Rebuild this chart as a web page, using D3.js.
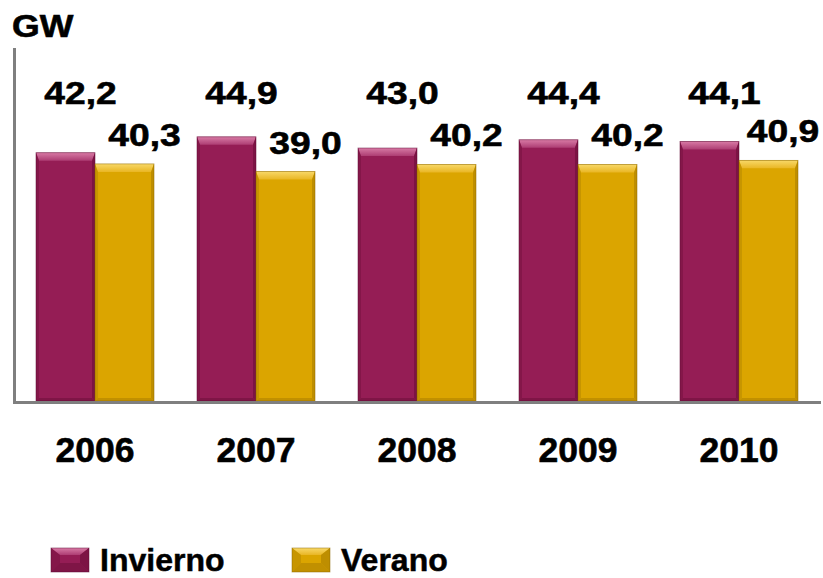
<!DOCTYPE html>
<html>
<head>
<meta charset="utf-8">
<script src="https://cdn.jsdelivr.net/npm/d3@7"></script>
<style>
  html, body { margin: 0; padding: 0; background: #fff; }
  svg { display: block; font-family: "Liberation Sans", Arial, sans-serif; font-weight: bold; }
</style>
</head>
<body>
<script>
const years = ["2006", "2007", "2008", "2009", "2010"];
const seriesNames = ["Invierno", "Verano"];
const invierno = [42.2, 44.9, 43.0, 44.4, 44.1];
const verano = [40.3, 39.0, 40.2, 40.2, 40.9];
const unitLabel = "GW";

const COLORS = {
  Invierno: {main: "#951d55", light: "#d87aa5", mid: "#ad3d73", dark: "#761240", edge: "#5e0c33"},
  Verano: {main: "#dba500", light: "#f8d868", mid: "#e9b624", dark: "#b78800", edge: "#8c6800"}
};

const width = 823;
const height = 578;

const data = years.flatMap((year, i) => [
  {year, series: "Invierno", value: invierno[i]},
  {year, series: "Verano", value: verano[i]}
]);

const x0 = d3.scaleBand().domain(years).range([36, 798]).paddingInner(0.267).paddingOuter(0);
const x1 = d3.scaleBand().domain(seriesNames).range([0, x0.bandwidth()]);
const y = d3.scaleLinear().domain([0, 60]).range([401, 48]);

const fmt = (v) => d3.format(".1f")(v).replace(".", ",");

const svg = d3.select("body").append("svg")
  .attr("width", width)
  .attr("height", height)
  .attr("viewBox", [0, 0, width, height]);

const defs = svg.append("defs");
for (const name of seriesNames) {
  const c = COLORS[name];
  const grad = defs.append("linearGradient")
    .attr("id", `top-${name}`)
    .attr("x1", 0).attr("y1", 0).attr("x2", 0).attr("y2", 1);
  grad.append("stop").attr("offset", "0%").attr("stop-color", c.light);
  grad.append("stop").attr("offset", "100%").attr("stop-color", c.mid);
}

function bevelBox(g, bx, by, w, h, name, t, s) {
  const c = COLORS[name];
  const box = g.append("g");
  box.append("rect")
    .attr("x", bx).attr("y", by).attr("width", w).attr("height", h)
    .attr("fill", c.main);
  box.append("polygon")
    .attr("points", [[bx, by], [bx + w, by], [bx + w - s, by + t], [bx + s, by + t]].join(" "))
    .attr("fill", `url(#top-${name})`);
  box.append("polygon")
    .attr("points", [[bx, by], [bx + s, by + t], [bx + s, by + h - s], [bx, by + h]].join(" "))
    .attr("fill", c.dark).attr("opacity", 0.55);
  box.append("polygon")
    .attr("points", [[bx + w, by], [bx + w - s, by + t], [bx + w - s, by + h - s], [bx + w, by + h]].join(" "))
    .attr("fill", c.dark).attr("opacity", 0.8);
  box.append("polygon")
    .attr("points", [[bx, by + h], [bx + s, by + h - s], [bx + w - s, by + h - s], [bx + w, by + h]].join(" "))
    .attr("fill", c.dark).attr("opacity", 0.7);
  box.append("rect")
    .attr("x", bx).attr("y", by).attr("width", w).attr("height", h)
    .attr("fill", "none").attr("stroke", c.edge).attr("stroke-width", 0.8).attr("stroke-opacity", 0.6);
}

// bars
const bars = svg.append("g");
for (const d of data) {
  const bx = x0(d.year) + x1(d.series);
  const by = y(d.value);
  bevelBox(bars, bx, by, x1.bandwidth(), y(0) - by, d.series, 8, 3);
}

// axes
svg.append("line")
  .attr("x1", 14.5).attr("x2", 14.5)
  .attr("y1", y.range()[1]).attr("y2", y(0) + 3)
  .attr("stroke", "#7f7f7f").attr("stroke-width", 3);
svg.append("line")
  .attr("x1", 13).attr("x2", 821)
  .attr("y1", y(0) + 1.5).attr("y2", y(0) + 1.5)
  .attr("stroke", "#7f7f7f").attr("stroke-width", 3);

// unit label
svg.append("text")
  .attr("transform", "translate(12,37) scale(1.15,1)")
  .attr("font-size", 31)
  .attr("fill", "#000")
  .attr("stroke", "#000").attr("stroke-width", 0.6)
  .text(unitLabel);

// value labels
const labels = svg.append("g")
  .attr("font-size", 31.5)
  .attr("text-anchor", "middle")
  .attr("fill", "#000")
  .attr("stroke", "#000")
  .attr("stroke-width", 0.6);
for (const d of data) {
  const cx = x0(d.year) + x1(d.series) + x1.bandwidth() / 2;
  const lx = Math.min(d.series === "Invierno" ? cx + 15 : cx + 20, width - 40);
  const ly = d.series === "Invierno" ? 103.5 : y(d.value) - 18;
  labels.append("text")
    .attr("transform", `translate(${lx},${ly}) scale(1.18,1)`)
    .text(fmt(d.value));
}

// year labels
svg.append("g")
  .attr("font-size", 35.5)
  .attr("text-anchor", "middle")
  .attr("fill", "#000")
  .attr("stroke", "#000")
  .attr("stroke-width", 0.6)
  .selectAll("text")
  .data(years)
  .join("text")
  .attr("x", (d) => x0(d) + x0.bandwidth() / 2)
  .attr("y", 462)
  .text((d) => d);

// legend
const legendX = [51, 292];
const legend = svg.append("g");
seriesNames.forEach((name, i) => {
  bevelBox(legend, legendX[i], 548, 38, 24, name, 7, 9);
  legend.append("text")
    .attr("x", legendX[i] + 49)
    .attr("y", 571)
    .attr("font-size", 32)
    .attr("fill", "#000")
    .attr("stroke", "#000")
    .attr("stroke-width", 0.5)
    .text(name);
});
</script>
</body>
</html>
